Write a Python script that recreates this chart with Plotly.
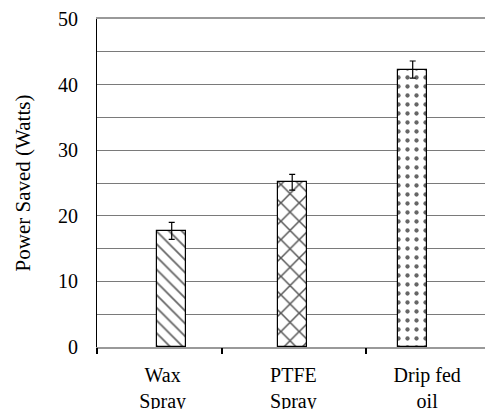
import plotly.graph_objects as go

categories = ["Wax<br>Spray", "PTFE<br>Spray", "Drip fed<br>oil"]
values = [17.7, 25.1, 42.3]
errors = [1.3, 1.2, 1.3]
patterns = ["\\", "x", "."]
y_ticks = [0, 10, 20, 30, 40, 50]
x_positions = [0, 1, 2]
label_positions = [-0.075, 1.01, 2.12]
boundary_ticks = [-0.62, 0.42, 1.61]

FONT = "Liberation Serif"

fig = go.Figure()
for xp, v, e, p in zip(x_positions, values, errors, patterns):
    fig.add_trace(go.Bar(
        x=[xp], y=[v], width=0.24,
        marker=dict(color="white", line=dict(color="black", width=1.2),
                    pattern=dict(shape=p, fgcolor={"\\": "#666666", "x": "#555555", ".": "#666666"}[p],
                                 bgcolor="white", fgopacity=1,
                                 size={"\\": 9, "x": 13, ".": 9}[p],
                                 solidity={"\\": 0.2, "x": 0.22, ".": 0.18}[p])),
        error_y=dict(type="data", array=[e], color="black", thickness=1.2, width=3),
        showlegend=False,
    ))

fig.add_trace(go.Scatter(x=[None], y=[None], xaxis="x2", showlegend=False))

fig.update_layout(
    width=485, height=409,
    margin=dict(l=97, r=0, t=19, b=62),
    plot_bgcolor="white", paper_bgcolor="white",
    font=dict(family=FONT, size=20, color="black"),
    xaxis=dict(range=[-0.62, 2.6], tickvals=label_positions, ticktext=categories,
               ticks="", showgrid=False, zeroline=False, showline=True,
               linecolor="#999999", linewidth=1.5, mirror=True,
               ticklabelstandoff=9, tickfont=dict(size=20), automargin=False),
    xaxis2=dict(range=[-0.62, 2.6], overlaying="x", side="bottom",
                tickvals=boundary_ticks, ticktext=["", "", ""], ticks="outside",
                ticklen=6, tickwidth=1.5, tickcolor="black", showgrid=False,
                zeroline=False, showline=False, automargin=False),
    yaxis=dict(range=[0, 50], tickvals=y_ticks, showgrid=True, gridcolor="#7a7a7a",
               gridwidth=1, zeroline=False, showline=True, linecolor="black",
               linewidth=1.2, ticks="", ticklabelstandoff=14, automargin=False,
               tickfont=dict(size=20),
               minor=dict(dtick=5, tick0=0, showgrid=True, gridcolor="#7a7a7a", gridwidth=1),
               title=dict(text="Power Saved (Watts)", font=dict(size=21), standoff=21)),
    bargap=0,
)

fig.write_html("out.html", post_script="document.body.style.margin='0';",
               config={"displayModeBar": False})
